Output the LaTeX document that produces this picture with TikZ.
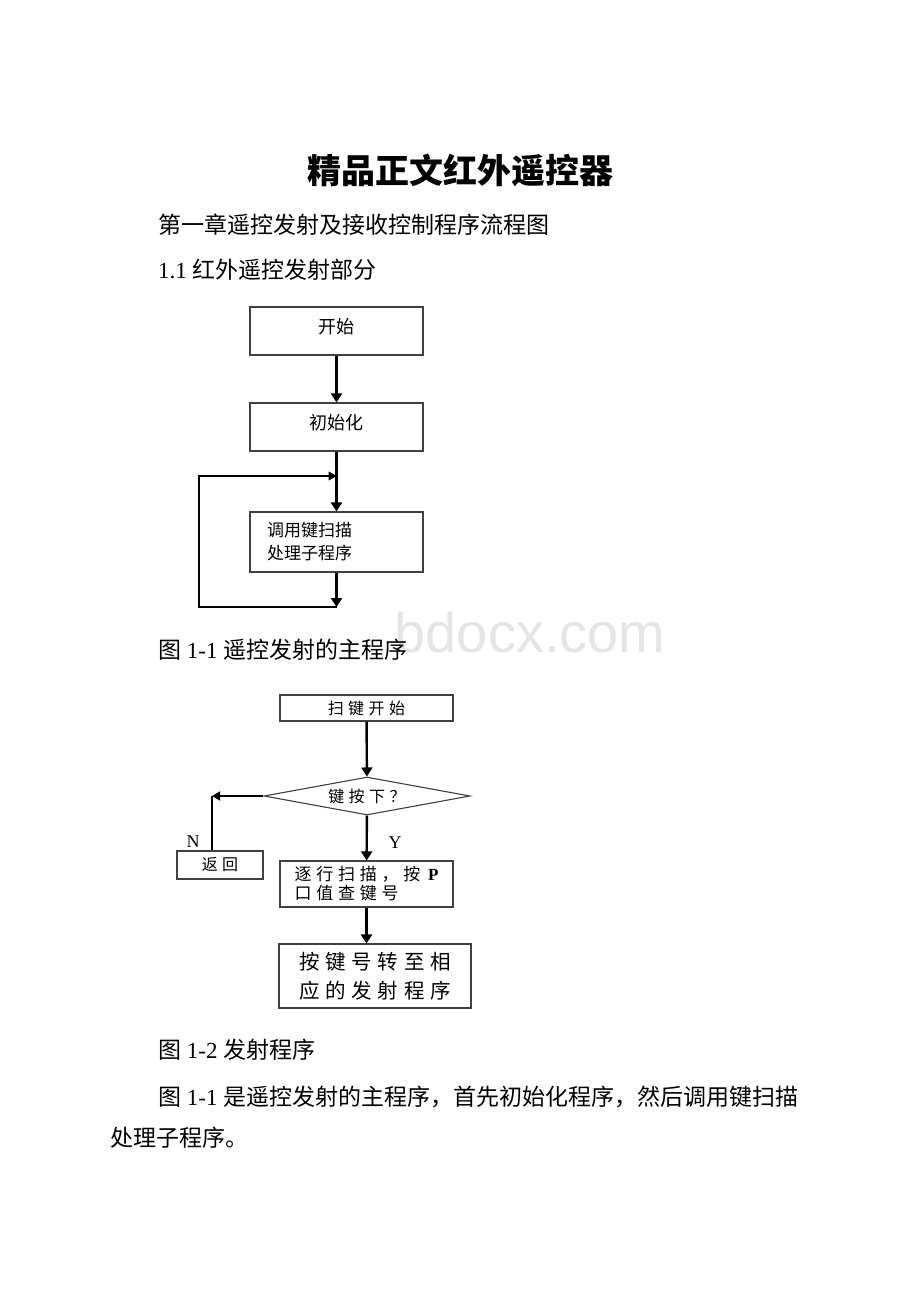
\documentclass[tikz,border=0pt]{standalone}
\usepackage{fontspec}
\setmainfont{Liberation Serif}
\setsansfont{Liberation Sans}
\newfontfamily\cjk{Noto Sans CJK SC}
\newfontfamily\cjkwide[LetterSpace=28]{Noto Sans CJK SC}
\usetikzlibrary{arrows.meta,shapes.geometric}

\newcommand\zh[1]{{\cjk #1}}

\tikzset{
  box/.style={draw=black!75, line width=1.1pt, rectangle, inner sep=0pt},
  flow/.style={line width=2.4pt, -{Triangle[width=11pt,length=9pt]}},
  thinflow/.style={line width=1.6pt, -{Triangle[width=9pt,length=8pt]}},
  link/.style={line width=1.6pt},
  para/.style={anchor=west, inner sep=0pt, font=\fontsize{23}{28}\selectfont},
}

\begin{document}
\begin{tikzpicture}[
      x=1pt, y=-1pt, % one unit = one pixel of the page
      every node/.style={inner sep=0pt}
  ]

\fill[white] (0,0) rectangle (920,1302);
\useasboundingbox (0,0) rectangle (920,1302);

% watermark, under everything else
\node[anchor=base, font=\sffamily\fontsize{56}{60}\selectfont, text=black!10] (mark) at (530,652) {bdocx.com};

% page text
\node[font=\cjk\bfseries\fontsize{34}{40}\selectfont] (title) at (460,170) {精品正文红外遥控器};
\node[para] (chapter) at (158,225) {\zh{第一章遥控发射及接收控制程序流程图}};
\node[para] (section) at (158,270) {1.1 \zh{红外遥控发射部分}};
\node[para] (cap1) at (158,650) {\zh{图} 1-1 \zh{遥控发射的主程序}};
\node[para] (cap2) at (158,1050) {\zh{图} 1-2 \zh{发射程序}};
\node[para] (line1) at (158,1097) {\zh{图} 1-1 \zh{是遥控发射的主程序，首先初始化程序，然后调用键扫描}};
\node[para] (line2) at (110,1138) {\zh{处理子程序。}};

% figure 1-1
\node[box, minimum width=173pt, minimum height=48pt, text depth=10pt, font=\cjk\fontsize{18}{22}\selectfont] (start) at (336.5,331) {开始};
\node[box, minimum width=173pt, minimum height=48pt, text depth=10pt, font=\cjk\fontsize{18}{22}\selectfont] (init) at (336.5,427) {初始化};
\node[box, minimum width=173pt, minimum height=60pt, text width=139pt, inner xsep=17pt, align=left,
      font=\cjk\fontsize{17}{23}\selectfont] (call) at (336.5,542) {调用键扫描\\处理子程序};

\coordinate (join) at (336.5,476);
\coordinate (loopend) at (336.5,607);
\coordinate (loopleft) at (199,607);

\draw[flow] (start) -- (init);
\draw[flow] (init) -- (call);
\draw[flow] (call) -- (loopend);
\draw[thinflow] (loopend) -- (loopleft) |- (join);

% figure 1-2
\node[box, minimum width=173pt, minimum height=26pt, font=\cjkwide\fontsize{16}{18}\selectfont] (scan) at (366.5,708) {扫键开始};
\node[draw=black!75, line width=1.1pt, diamond, aspect=5.4, minimum width=206pt, minimum height=38pt,
      font=\cjkwide\fontsize{16}{18}\selectfont] (ask) at (367,796) {键按下？};
\node[box, minimum width=86pt, minimum height=28pt, font=\cjkwide\fontsize{16}{18}\selectfont] (back) at (220,865) {返回};
\node[box, minimum width=173pt, minimum height=46pt, align=left,
      font=\cjkwide\fontsize{17}{19}\selectfont] (row) at (366.5,884) {逐行扫描，按\hspace{3pt}\textrm{\bfseries P}\\口值查键号};
\node[box, minimum width=192pt, minimum height=64pt, align=center,
      font=\cjkwide\fontsize{20.5}{29}\selectfont] (jump) at (375,976) {按键号转至相\\应的发射程序};

\coordinate (nturn) at (212,796);

\foreach \from/\to in {scan/ask, ask/row}
    \draw[flow] (\from) -- (\to);
\draw[flow] (row.south) -- (row.south |- jump.north);

\draw[thinflow] (ask.west) -- (nturn);
\draw[link] (nturn) -- (nturn |- back.north);

\node[font=\fontsize{18}{20}\selectfont] (no) at (193,842) {N};
\node[font=\fontsize{18}{20}\selectfont] (yes) at (395,843) {Y};

\end{tikzpicture}
\end{document}
